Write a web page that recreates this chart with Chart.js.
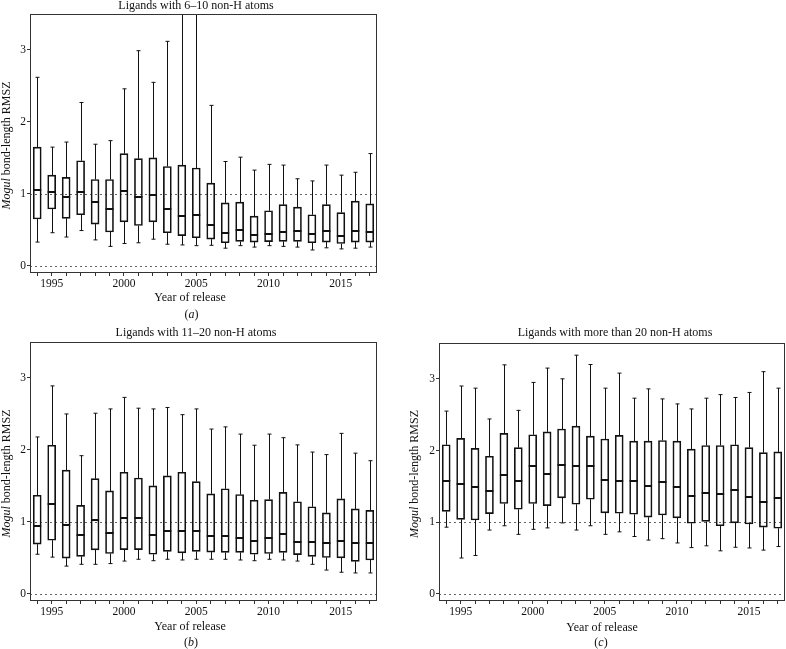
<!DOCTYPE html>
<html>
<head>
<meta charset="utf-8">
<title>Mogul bond-length RMSZ by year</title>
<script src="https://cdn.jsdelivr.net/npm/chart.js@4.4.0/dist/chart.umd.min.js"></script>
<style>
  body { margin: 0; background: #fff; }
  #wrap { position: relative; width: 786px; height: 649px; overflow: hidden; }
  canvas { position: absolute; }
</style>
</head>
<body>
<div id="wrap">
  <canvas id="chartA" width="390" height="321" style="left:0px;top:0px"></canvas>
  <canvas id="chartB" width="390" height="328" style="left:0px;top:321px"></canvas>
  <canvas id="chartC" width="377" height="328" style="left:409px;top:321px"></canvas>
</div>
<script>
// years on the x axis
const years = [1994, 1995, 1996, 1997, 1998, 1999, 2000, 2001, 2002, 2003, 2004, 2005,
               2006, 2007, 2008, 2009, 2010, 2011, 2012, 2013, 2014, 2015, 2016, 2017];
const yTicks = [0, 1, 2, 3];
const refLines = [0, 1];

// (a) ligands with 6-10 non-H atoms
const smallLo  = [0.33, 0.46, 0.40, 0.49, 0.36, 0.27, 0.31, 0.32, 0.37, 0.30, 0.29, 0.28, 0.285, 0.245, 0.28, 0.26, 0.28, 0.27, 0.26, 0.22, 0.25, 0.235, 0.245, 0.26];
const smallQ1  = [0.65, 0.79, 0.66, 0.71, 0.58, 0.47, 0.61, 0.56, 0.61, 0.46, 0.42, 0.39, 0.37, 0.32, 0.34, 0.33, 0.335, 0.34, 0.34, 0.32, 0.33, 0.31, 0.33, 0.33];
const smallMed = [1.06, 1.02, 0.95, 1.02, 0.885, 0.79, 1.04, 0.96, 0.98, 0.79, 0.69, 0.71, 0.57, 0.46, 0.50, 0.43, 0.44, 0.475, 0.49, 0.44, 0.48, 0.42, 0.49, 0.475];
const smallQ3  = [1.65, 1.26, 1.23, 1.46, 1.20, 1.20, 1.56, 1.49, 1.50, 1.38, 1.40, 1.36, 1.15, 0.875, 0.885, 0.69, 0.765, 0.85, 0.815, 0.71, 0.85, 0.74, 0.90, 0.86];
const smallHi  = [2.62, 1.65, 1.72, 2.27, 1.69, 1.74, 2.46, 2.99, 2.55, 3.12, 4.2, 4.0, 2.23, 1.45, 1.51, 1.33, 1.41, 1.40, 1.21, 1.18, 1.40, 1.26, 1.30, 1.56];

// (b) ligands with 11-20 non-H atoms
const mediumLo  = [0.55, 0.51, 0.385, 0.41, 0.41, 0.42, 0.455, 0.48, 0.46, 0.48, 0.47, 0.48, 0.48, 0.48, 0.47, 0.46, 0.48, 0.47, 0.455, 0.41, 0.33, 0.30, 0.29, 0.29];
const mediumQ1  = [0.69, 0.745, 0.495, 0.52, 0.61, 0.56, 0.615, 0.615, 0.55, 0.59, 0.57, 0.59, 0.58, 0.575, 0.575, 0.55, 0.56, 0.575, 0.545, 0.52, 0.505, 0.50, 0.45, 0.47];
const mediumMed = [0.94, 1.245, 0.96, 0.82, 1.02, 0.84, 1.05, 1.05, 0.82, 0.87, 0.87, 0.87, 0.81, 0.80, 0.78, 0.74, 0.77, 0.83, 0.72, 0.72, 0.71, 0.74, 0.70, 0.70];
const mediumQ3  = [1.37, 2.065, 1.72, 1.23, 1.60, 1.43, 1.69, 1.61, 1.50, 1.64, 1.69, 1.56, 1.39, 1.46, 1.38, 1.30, 1.31, 1.41, 1.28, 1.21, 1.125, 1.32, 1.18, 1.16];
const mediumHi  = [2.18, 2.89, 2.50, 1.92, 2.51, 2.57, 2.73, 2.58, 2.57, 2.59, 2.49, 2.57, 2.29, 2.32, 2.22, 2.065, 2.22, 2.17, 2.07, 1.97, 1.935, 2.23, 1.955, 1.85];

// (c) ligands with more than 20 non-H atoms
const largeLo  = [0.93, 0.50, 0.535, 0.89, 0.95, 0.83, 0.90, 0.92, 0.99, 0.89, 0.95, 0.83, 0.865, 0.80, 0.75, 0.77, 0.71, 0.645, 0.67, 0.60, 0.65, 0.64, 0.61, 0.66];
const largeQ1  = [1.15, 1.04, 1.03, 1.12, 1.26, 1.18, 1.26, 1.23, 1.34, 1.25, 1.32, 1.13, 1.125, 1.11, 1.07, 1.10, 1.06, 0.985, 1.01, 0.95, 0.99, 0.975, 0.93, 0.915];
const largeMed = [1.58, 1.535, 1.49, 1.44, 1.665, 1.57, 1.79, 1.67, 1.80, 1.78, 1.78, 1.585, 1.58, 1.58, 1.50, 1.555, 1.49, 1.37, 1.41, 1.39, 1.45, 1.35, 1.28, 1.34];
const largeQ3  = [2.08, 2.17, 2.03, 1.92, 2.24, 2.04, 2.22, 2.26, 2.30, 2.34, 2.20, 2.16, 2.21, 2.13, 2.13, 2.14, 2.13, 2.02, 2.07, 2.07, 2.08, 2.04, 1.97, 1.98];
const largeHi  = [2.55, 2.90, 2.87, 2.44, 3.195, 2.56, 2.95, 3.15, 3.00, 3.33, 3.20, 2.87, 3.08, 2.73, 2.86, 2.72, 2.65, 2.58, 2.73, 2.78, 2.74, 2.81, 3.10, 2.87];

const serif = 'Liberation Serif';
const ink = '#111';

function boxDataset(lo, q1, med, q3, hi) {
  return {
    data: q1.map((v, i) => [v, q3[i]]),
    lo: lo, med: med, hi: hi,
    backgroundColor: 'rgba(0,0,0,0)',
    borderColor: ink,
    borderWidth: 1,
    borderSkipped: false,
    barThickness: 8
  };
}

// whiskers, medians, dotted reference lines and the frame
const boxPlugin = {
  id: 'boxWhiskers',
  beforeDatasetsDraw(chart) {
    const { ctx, chartArea: a, scales: { y } } = chart;
    ctx.save();
    ctx.strokeStyle = '#666';
    ctx.lineWidth = 1;
    ctx.setLineDash([2, 3]);
    refLines.forEach(v => {
      const py = Math.round(y.getPixelForValue(v)) + 0.5;
      ctx.beginPath();
      ctx.moveTo(a.left, py);
      ctx.lineTo(a.right, py);
      ctx.stroke();
    });
    ctx.restore();
  },
  afterDatasetsDraw(chart) {
    const { ctx, chartArea: a, scales: { y } } = chart;
    const ds = chart.data.datasets[0];
    const meta = chart.getDatasetMeta(0);
    ctx.save();
    ctx.beginPath();
    ctx.rect(a.left, a.top, a.right - a.left, a.bottom - a.top);
    ctx.clip();
    ctx.strokeStyle = ink;
    meta.data.forEach((bar, i) => {
      const x = Math.round(bar.x) + 0.5;
      const half = bar.width / 2;
      const cap = half / 2;
      const pLo = y.getPixelForValue(ds.lo[i]);
      const pHi = y.getPixelForValue(ds.hi[i]);
      const pQ1 = y.getPixelForValue(ds.data[i][0]);
      const pQ3 = y.getPixelForValue(ds.data[i][1]);
      ctx.lineWidth = 1;
      ctx.beginPath();
      ctx.moveTo(x, pQ3); ctx.lineTo(x, pHi);
      ctx.moveTo(x - cap, pHi); ctx.lineTo(x + cap, pHi);
      ctx.moveTo(x, pQ1); ctx.lineTo(x, pLo);
      ctx.moveTo(x - cap, pLo); ctx.lineTo(x + cap, pLo);
      ctx.stroke();
      // median
      const pm = Math.round(y.getPixelForValue(ds.med[i]));
      ctx.lineWidth = 2;
      ctx.beginPath();
      ctx.moveTo(bar.x - half, pm);
      ctx.lineTo(bar.x + half, pm);
      ctx.stroke();
    });
    ctx.restore();

    ctx.save();
    ctx.strokeStyle = '#333';
    ctx.lineWidth = 1;
    const l = Math.floor(a.left) + 0.5, t = Math.floor(a.top) + 0.5;
    const r = Math.round(a.right) - 0.5, b = Math.round(a.bottom) - 0.5;
    ctx.strokeRect(l, t, r - l, b - t);
    ctx.restore();
  }
};

// draw a line of text made of upright and italic runs, centred on cx
function drawRuns(ctx, runs, cx, cy, size) {
  const fonts = runs.map(r => (r.italic ? 'italic ' : '') + size + 'px "' + serif + '"');
  const widths = runs.map((r, i) => { ctx.font = fonts[i]; return ctx.measureText(r.text).width; });
  let x = cx - widths.reduce((s, w) => s + w, 0) / 2;
  ctx.textAlign = 'left';
  runs.forEach((r, i) => {
    ctx.font = fonts[i];
    ctx.fillText(r.text, x, cy);
    x += widths[i];
  });
}

function textPlugin(p) {
  return {
    id: 'panelText',
    afterDraw(chart) {
      const ctx = chart.ctx, a = chart.chartArea;
      ctx.save();
      ctx.fillStyle = ink;
      ctx.textBaseline = 'alphabetic';
      drawRuns(ctx, [{ text: p.title }], p.titleX, p.titleY, 12);
      drawRuns(ctx, [{ text: 'Year of release' }], p.xTitleX, p.xTitleY, 12);
      drawRuns(ctx, [{ text: '(' }, { text: p.letter, italic: true }, { text: ')' }], p.letterX, p.letterY, 12);
      ctx.translate(p.yTitleX, (a.top + a.bottom) / 2 + 2);
      ctx.rotate(-Math.PI / 2);
      ctx.textBaseline = 'middle';
      drawRuns(ctx, [{ text: 'Mogul', italic: true }, { text: ' bond-length RMSZ' }], 0, 0, 12);
      ctx.restore();
    }
  };
}

function makeChart(id, dataset, p) {
  const tickFont = { family: serif, size: 11.5 };
  return new Chart(document.getElementById(id), {
    type: 'bar',
    data: { labels: years, datasets: [dataset] },
    options: {
      responsive: false,
      animation: false,
      events: [],
      layout: { padding: p.padding },
      plugins: { legend: { display: false }, tooltip: { enabled: false } },
      scales: {
        x: {
          offset: true,
          grid: { offset: false, drawOnChartArea: false, tickLength: 3, color: '#333', tickColor: '#333' },
          border: { display: false },
          ticks: {
            autoSkip: false, maxRotation: 0, padding: 1, color: ink, font: tickFont,
            callback: (v, i) => (years[i] % 5 === 0 ? String(years[i]) : '')
          },
          afterFit: s => { s.height = 20; }
        },
        y: {
          min: -0.1,
          max: 3.5,
          afterBuildTicks: s => { s.ticks = yTicks.map(v => ({ value: v })); },
          grid: { drawOnChartArea: false, tickLength: 3, color: '#333', tickColor: '#333' },
          border: { display: false },
          ticks: { padding: 1, color: ink, font: tickFont },
          afterFit: s => { s.width = 30; }
        }
      }
    },
    plugins: [boxPlugin, textPlugin(p)]
  });
}

makeChart('chartA', boxDataset(smallLo, smallQ1, smallMed, smallQ3, smallHi), {
  padding: { top: 14, right: 13, bottom: 28, left: 0 },
  title: 'Ligands with 6\u201310 non-H atoms', titleX: 196, titleY: 9,
  xTitleX: 190, xTitleY: 301, letter: 'a', letterX: 191.5, letterY: 318, yTitleX: 7
});

makeChart('chartB', boxDataset(mediumLo, mediumQ1, mediumMed, mediumQ3, mediumHi), {
  padding: { top: 21, right: 13, bottom: 28, left: 0 },
  title: 'Ligands with 11\u201320 non-H atoms', titleX: 196, titleY: 14.5,
  xTitleX: 190, xTitleY: 309, letter: 'b', letterX: 191, letterY: 325, yTitleX: 7
});

makeChart('chartC', boxDataset(largeLo, largeQ1, largeMed, largeQ3, largeHi), {
  padding: { top: 22, right: 1, bottom: 28, left: 0 },
  title: 'Ligands with more than 20 non-H atoms', titleX: 206, titleY: 15,
  xTitleX: 193, xTitleY: 310, letter: 'c', letterX: 192, letterY: 325, yTitleX: 6
});
</script>
</body>
</html>
